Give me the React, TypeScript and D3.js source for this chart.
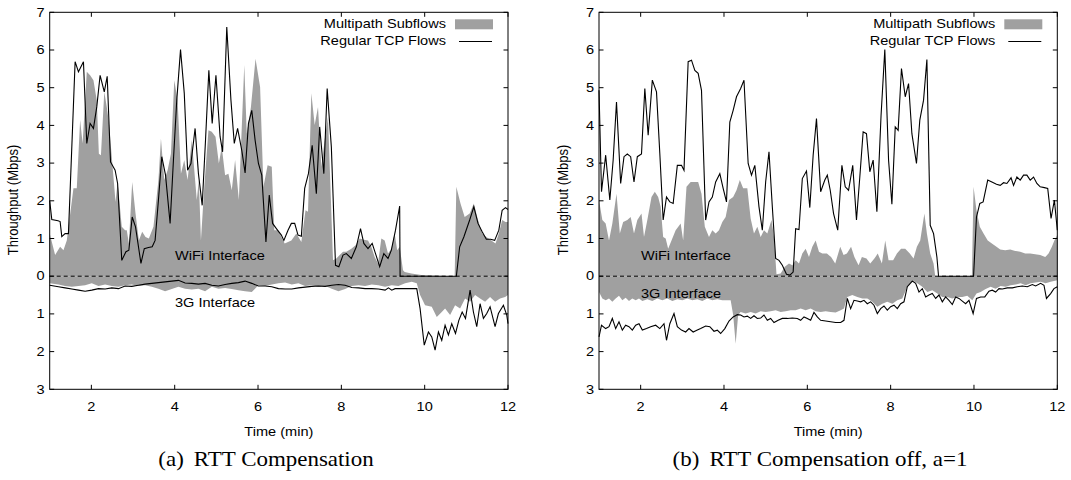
import React from 'react';
import * as d3 from 'd3';

type P = [number, number];

const xTicks = [2, 4, 6, 8, 10, 12];
const yTicks = [-3, -2, -1, 0, 1, 2, 3, 4, 5, 6, 7];
const yTickLabels = ['3', '2', '1', '0', '1', '2', '3', '4', '5', '6', '7'];
const legendLabels = ['Multipath Subflows', 'Regular TCP Flows'];
const areaLabels = ['WiFi Interface', '3G Interface'];
const captions = ['RTT Compensation', 'RTT Compensation off, a=1'];
const captionTags = ['(a)', '(b)'];

// Panel (a): WiFi multipath subflows (above zero)
const aWifiSub: P[] = [[1.00,1.13],[1.13,0.56],[1.25,0.78],[1.33,0.69],[1.41,0.95],[1.57,2.33],[1.65,2.33],[1.73,4.14],[1.79,3.52],[1.89,5.42],[1.97,5.33],[2.05,5.20],[2.13,4.67],[2.18,3.25],[2.23,3.21],[2.31,4.89],[2.37,4.49],[2.42,4.09],[2.49,3.17],[2.58,1.97],[2.63,2.50],[2.73,1.31],[2.81,1.22],[2.85,1.22],[2.90,0.87],[2.98,2.50],[3.06,1.66],[3.14,0.95],[3.22,1.18],[3.30,1.04],[3.38,1.00],[3.49,1.31],[3.61,2.55],[3.67,3.65],[3.75,2.55],[3.83,2.81],[3.91,3.25],[3.99,5.20],[4.07,4.67],[4.15,2.72],[4.23,3.08],[4.31,2.55],[4.41,3.61],[4.53,2.02],[4.58,2.55],[4.63,0.95],[4.71,2.37],[4.81,3.87],[4.89,3.83],[4.98,3.70],[5.06,2.99],[5.13,3.43],[5.21,2.68],[5.29,2.72],[5.37,2.28],[5.45,3.08],[5.54,2.02],[5.67,5.60],[5.73,3.78],[5.83,4.49],[5.94,5.77],[6.05,5.02],[6.13,2.37],[6.23,2.94],[6.33,2.90],[6.39,1.22],[6.48,1.22],[6.64,0.87],[6.80,0.95],[6.92,1.13],[7.04,0.91],[7.14,1.75],[7.20,1.71],[7.28,4.85],[7.36,4.01],[7.44,4.49],[7.52,2.90],[7.60,3.61],[7.68,4.23],[7.80,0.42],[7.88,0.47],[7.96,0.56],[8.04,0.65],[8.12,0.65],[8.24,0.73],[8.34,0.82],[8.44,1.00],[8.54,0.97],[8.64,0.95],[8.72,0.78],[8.80,0.51],[8.88,0.34],[8.96,1.00],[9.04,0.95],[9.12,0.60],[9.20,0.73],[9.28,1.13],[9.34,0.69],[9.40,0.78],[9.48,0.16],[9.52,0.11],[9.68,0.07],[9.92,0.03],[10.64,0.0],[10.72,0.0],[10.76,2.37],[10.86,1.93],[10.96,1.57],[11.08,1.66],[11.18,1.93],[11.28,1.49],[11.38,1.13],[11.48,1.04],[11.60,0.95],[11.70,0.87],[11.78,1.13],[11.86,1.49],[11.94,1.44],[12.0,1.44]];

// Panel (a): 3G multipath subflows (magnitude, drawn below zero)
const aCellSub: P[] = [[1.00,0.19],[1.21,0.22],[1.37,0.26],[1.53,0.28],[1.69,0.26],[1.85,0.24],[2.01,0.19],[2.17,0.26],[2.33,0.22],[2.49,0.26],[2.65,0.28],[2.81,0.24],[2.97,0.22],[3.13,0.26],[3.29,0.24],[3.45,0.28],[3.61,0.33],[3.77,0.40],[3.93,0.34],[4.09,0.28],[4.25,0.33],[4.41,0.35],[4.57,0.33],[4.73,0.40],[4.89,0.28],[5.05,0.33],[5.21,0.31],[5.37,0.34],[5.53,0.37],[5.69,0.40],[5.85,0.42],[6.01,0.24],[6.17,0.26],[6.33,0.22],[6.49,0.19],[6.65,0.17],[6.81,0.22],[6.97,0.19],[7.13,0.26],[7.29,0.24],[7.45,0.28],[7.61,0.26],[7.77,0.33],[7.93,0.40],[8.09,0.34],[8.25,0.26],[8.41,0.24],[8.57,0.26],[8.73,0.22],[8.89,0.24],[9.05,0.28],[9.21,0.24],[9.37,0.26],[9.53,0.19],[9.69,0.15],[9.81,0.19],[9.89,0.50],[10.01,0.77],[10.17,0.81],[10.29,1.08],[10.41,0.95],[10.49,0.86],[10.61,1.03],[10.73,0.77],[10.85,0.86],[10.97,0.59],[11.09,0.68],[11.21,0.50],[11.33,0.59],[11.45,0.68],[11.57,0.55],[11.69,0.68],[11.81,0.59],[11.93,0.55],[12.0,0.50]];

// Panel (a): regular TCP over WiFi
const aWifiTcp: P[] = [[1.00,2.0],[1.05,1.5],[1.20,1.47],[1.25,1.45],[1.29,1.05],[1.37,1.13],[1.45,1.13],[1.61,5.69],[1.69,5.42],[1.81,5.69],[1.89,3.52],[1.97,4.05],[2.05,3.92],[2.13,4.49],[2.21,5.33],[2.31,4.89],[2.38,5.30],[2.46,3.03],[2.57,2.81],[2.63,2.46],[2.73,0.42],[2.83,0.65],[2.90,0.69],[2.98,1.57],[3.06,1.31],[3.19,0.34],[3.27,0.73],[3.37,0.76],[3.46,0.78],[3.53,0.95],[3.61,2.02],[3.69,3.17],[3.78,2.68],[3.89,1.40],[3.97,3.08],[4.05,4.67],[4.14,6.01],[4.23,4.85],[4.31,2.81],[4.39,2.99],[4.49,3.92],[4.57,2.72],[4.66,1.88],[4.74,3.61],[4.82,5.46],[4.90,4.05],[4.99,5.33],[5.09,3.70],[5.15,3.30],[5.25,6.61],[5.35,4.67],[5.43,3.52],[5.51,3.92],[5.61,3.34],[5.69,2.74],[5.77,4.05],[5.85,4.40],[5.93,3.61],[6.01,2.99],[6.09,2.68],[6.19,0.91],[6.27,2.15],[6.35,1.40],[6.45,1.25],[6.56,1.09],[6.62,0.95],[6.72,1.22],[6.80,1.40],[6.88,1.40],[6.96,1.09],[7.04,1.06],[7.12,2.33],[7.21,2.72],[7.30,3.47],[7.40,2.19],[7.48,3.96],[7.58,2.72],[7.66,4.98],[7.76,3.43],[7.86,0.29],[7.94,0.25],[8.04,0.56],[8.12,0.60],[8.24,0.47],[8.36,0.78],[8.46,1.26],[8.54,0.87],[8.64,0.73],[8.74,0.87],[8.82,0.60],[8.92,0.25],[9.02,0.60],[9.12,0.47],[9.20,0.69],[9.30,1.22],[9.40,1.86],[9.41,0],[10.76,0],[10.84,0.78],[10.94,1.04],[11.08,1.49],[11.18,1.84],[11.28,1.40],[11.38,1.18],[11.48,0.98],[11.58,0.98],[11.68,0.95],[11.78,1.22],[11.86,1.75],[11.94,1.82],[12.0,1.77]];

// Panel (a): regular TCP over 3G (magnitude, drawn below zero)
const aCellTcp: P[] = [[1.00,0.24],[1.21,0.28],[1.37,0.31],[1.53,0.34],[1.69,0.37],[1.85,0.40],[2.01,0.37],[2.17,0.33],[2.33,0.34],[2.49,0.31],[2.65,0.33],[2.81,0.26],[2.97,0.27],[3.13,0.24],[3.29,0.21],[3.45,0.19],[3.61,0.17],[3.77,0.15],[3.93,0.13],[4.09,0.11],[4.25,0.18],[4.41,0.19],[4.57,0.21],[4.73,0.19],[4.89,0.24],[5.05,0.26],[5.21,0.22],[5.37,0.19],[5.53,0.17],[5.69,0.13],[5.85,0.19],[6.01,0.26],[6.17,0.26],[6.33,0.28],[6.49,0.33],[6.65,0.34],[6.81,0.34],[6.97,0.31],[7.13,0.29],[7.29,0.27],[7.45,0.26],[7.61,0.27],[7.77,0.24],[7.93,0.22],[8.09,0.24],[8.25,0.30],[8.41,0.31],[8.57,0.33],[8.73,0.33],[8.89,0.34],[9.05,0.37],[9.13,0.31],[9.21,0.37],[9.29,0.33],[9.37,0.33],[9.53,0.33],[9.69,0.33],[9.81,0.33],[9.89,0.86],[9.99,1.83],[10.09,1.48],[10.17,1.61],[10.25,1.96],[10.33,1.48],[10.41,1.70],[10.49,1.30],[10.57,1.56],[10.65,1.26],[10.74,1.52],[10.82,1.17],[10.90,0.95],[10.98,1.12],[11.09,0.37],[11.17,0.95],[11.25,1.34],[11.33,0.73],[11.41,1.12],[11.49,0.99],[11.57,0.81],[11.69,1.34],[11.77,0.99],[11.89,0.77],[11.97,1.03],[12.0,1.26]];

// Panel (b): WiFi multipath subflows
const bWifiSub: P[] = [[1.00,2.02],[1.08,1.49],[1.16,1.40],[1.24,0.95],[1.32,1.40],[1.42,2.19],[1.50,1.13],[1.58,1.44],[1.68,1.49],[1.76,1.57],[1.84,1.13],[1.92,1.49],[2.02,1.66],[2.08,1.04],[2.16,1.49],[2.26,2.10],[2.34,2.24],[2.42,2.10],[2.48,1.84],[2.54,1.04],[2.60,1.00],[2.66,0.73],[2.74,0.95],[2.84,1.22],[2.96,1.40],[3.02,0.95],[3.10,2.37],[3.20,2.50],[3.30,2.50],[3.38,2.50],[3.46,2.19],[3.54,1.31],[3.64,1.04],[3.72,1.22],[3.80,1.13],[3.88,1.22],[3.96,1.44],[4.04,1.57],[4.12,2.02],[4.22,2.10],[4.30,2.28],[4.38,2.55],[4.46,2.33],[4.56,2.33],[4.64,1.53],[4.72,1.13],[4.80,1.31],[4.88,1.04],[4.96,1.22],[5.04,1.13],[5.14,1.49],[5.20,1.04],[5.26,0.05],[5.36,0.07],[5.46,0.25],[5.56,0.34],[5.64,0.29],[5.72,0.42],[5.80,0.34],[5.88,0.60],[5.96,0.73],[6.04,0.51],[6.12,0.78],[6.20,0.95],[6.28,0.65],[6.36,0.60],[6.47,0.60],[6.57,0.51],[6.67,0.34],[6.79,0.78],[6.87,0.56],[6.95,0.60],[7.05,0.78],[7.13,0.51],[7.23,0.29],[7.31,0.51],[7.42,0.47],[7.51,0.34],[7.61,0.47],[7.69,0.60],[7.79,0.34],[7.87,0.95],[7.95,0.42],[8.06,0.42],[8.15,0.60],[8.25,0.73],[8.35,0.73],[8.46,0.60],[8.55,0.47],[8.63,0.78],[8.71,0.95],[8.81,1.66],[8.87,1.13],[8.95,0.60],[9.03,0.34],[9.07,0],[9.95,0],[9.99,2.37],[10.06,1.75],[10.14,1.31],[10.23,1.13],[10.33,0.95],[10.43,0.87],[10.54,0.78],[10.63,0.71],[10.75,0.69],[10.87,0.71],[10.99,0.67],[11.11,0.65],[11.23,0.60],[11.35,0.60],[11.47,0.58],[11.59,0.56],[11.71,0.51],[11.79,0.60],[11.87,0.78],[11.93,0.95],[12.0,1.09]];

// Panel (b): 3G multipath subflows (magnitude)
const bCellSub: P[] = [[1.00,0.42],[1.08,0.59],[1.16,0.64],[1.24,0.59],[1.32,0.68],[1.40,0.59],[1.48,0.52],[1.56,0.64],[1.64,0.57],[1.72,0.66],[1.80,0.59],[1.88,0.64],[1.96,0.59],[2.04,0.66],[2.16,0.61],[2.28,0.66],[2.40,0.59],[2.52,0.64],[2.64,0.59],[2.76,0.66],[2.88,0.61],[3.00,0.64],[3.12,0.59],[3.24,0.64],[3.36,0.61],[3.48,0.66],[3.60,0.59],[3.72,0.64],[3.84,0.61],[3.96,0.64],[4.08,0.64],[4.16,0.64],[4.22,1.03],[4.28,1.79],[4.34,1.03],[4.40,0.95],[4.52,0.99],[4.64,0.95],[4.76,0.99],[4.88,0.93],[5.00,0.95],[5.12,0.93],[5.24,0.90],[5.36,0.95],[5.48,0.93],[5.60,0.90],[5.72,0.90],[5.84,0.86],[5.96,0.90],[6.08,0.86],[6.20,0.93],[6.32,0.95],[6.44,0.93],[6.56,0.95],[6.68,0.96],[6.80,0.90],[6.88,0.86],[6.96,0.55],[7.08,0.50],[7.20,0.55],[7.32,0.59],[7.44,0.59],[7.56,0.68],[7.68,0.81],[7.80,0.73],[7.92,0.68],[8.04,0.73],[8.16,0.64],[8.28,0.59],[8.40,0.28],[8.52,0.11],[8.64,0.19],[8.76,0.28],[8.88,0.42],[9.00,0.37],[9.12,0.46],[9.24,0.55],[9.36,0.55],[9.48,0.59],[9.60,0.55],[9.72,0.55],[9.84,0.52],[9.96,0.64],[10.06,0.46],[10.16,0.42],[10.28,0.34],[10.40,0.28],[10.52,0.33],[10.64,0.26],[10.76,0.28],[10.88,0.24],[11.00,0.22],[11.12,0.19],[11.24,0.24],[11.36,0.19],[11.48,0.17],[11.60,0.15],[11.72,0.19],[11.84,0.15],[12.0,0.11]];

// Panel (b): regular TCP over WiFi
const bWifiTcp: P[] = [[1.00,4.93],[1.06,2.24],[1.16,3.21],[1.26,2.02],[1.34,3.08],[1.42,4.62],[1.52,2.46],[1.60,3.17],[1.68,3.24],[1.76,3.17],[1.84,2.50],[1.92,3.17],[2.02,3.24],[2.10,4.98],[2.18,3.74],[2.28,5.20],[2.38,4.89],[2.46,3.25],[2.54,1.49],[2.62,2.10],[2.70,1.97],[2.78,1.93],[2.88,2.94],[2.98,2.94],[3.04,2.81],[3.14,5.69],[3.22,5.73],[3.30,5.46],[3.38,5.38],[3.46,4.93],[3.56,1.49],[3.64,1.97],[3.72,2.10],[3.80,2.50],[3.90,2.72],[3.98,2.33],[4.06,1.97],[4.14,4.09],[4.22,4.40],[4.30,4.76],[4.40,4.98],[4.48,5.20],[4.58,2.99],[4.66,2.68],[4.74,2.94],[4.84,1.84],[4.92,1.22],[5.00,2.50],[5.08,3.30],[5.16,1.84],[5.24,0.47],[5.32,0.42],[5.40,0.29],[5.50,0.05],[5.58,0.03],[5.66,0.11],[5.72,1.26],[5.80,1.24],[5.88,2.59],[5.98,2.79],[6.06,1.82],[6.14,3.21],[6.22,4.18],[6.32,2.24],[6.42,2.55],[6.48,2.68],[6.55,2.28],[6.63,1.66],[6.73,1.22],[6.83,2.94],[6.91,2.37],[6.99,2.28],[7.09,2.94],[7.18,1.49],[7.26,2.63],[7.34,3.83],[7.42,3.78],[7.50,2.77],[7.58,3.08],[7.67,1.71],[7.77,4.27],[7.86,6.01],[7.95,3.08],[8.03,1.91],[8.11,3.96],[8.18,3.87],[8.26,5.51],[8.35,4.76],[8.43,5.11],[8.51,3.78],[8.62,2.99],[8.70,4.14],[8.79,4.67],[8.87,5.75],[8.95,1.35],[9.03,1.13],[9.11,0.51],[9.15,0],[9.99,0],[10.06,1.57],[10.14,1.93],[10.22,1.97],[10.33,2.55],[10.43,2.50],[10.54,2.44],[10.63,2.41],[10.71,2.48],[10.79,2.46],[10.89,2.61],[10.95,2.41],[11.03,2.63],[11.11,2.55],[11.19,2.68],[11.27,2.68],[11.35,2.55],[11.43,2.63],[11.51,2.46],[11.59,2.37],[11.69,2.35],[11.77,2.33],[11.85,1.53],[11.93,2.02],[12.0,1.22]];

// Panel (b): regular TCP over 3G (magnitude)
const bCellTcp: P[] = [[1.00,1.61],[1.06,1.30],[1.16,1.39],[1.24,1.34],[1.32,1.12],[1.40,1.39],[1.48,1.21],[1.56,1.43],[1.64,1.30],[1.72,1.34],[1.80,1.43],[1.88,1.30],[1.96,1.26],[2.04,1.43],[2.14,1.39],[2.24,1.34],[2.36,1.30],[2.46,1.39],[2.56,1.26],[2.62,1.70],[2.70,1.26],[2.80,0.99],[2.88,1.34],[2.98,1.43],[3.08,1.48],[3.16,1.39],[3.26,1.48],[3.36,1.43],[3.44,1.39],[3.56,1.32],[3.66,1.34],[3.76,1.46],[3.84,1.43],[3.92,1.52],[4.02,1.39],[4.12,1.19],[4.22,1.08],[4.32,1.02],[4.40,1.03],[4.48,1.08],[4.56,1.06],[4.64,1.12],[4.72,1.05],[4.80,1.12],[4.88,1.11],[4.96,1.03],[5.04,1.17],[5.12,1.12],[5.20,1.23],[5.30,1.17],[5.40,1.12],[5.52,1.12],[5.64,1.11],[5.76,1.12],[5.84,1.17],[5.92,1.08],[6.00,1.12],[6.08,1.17],[6.16,0.96],[6.24,1.08],[6.32,1.17],[6.44,1.19],[6.56,1.21],[6.68,1.23],[6.80,1.23],[6.88,1.17],[6.96,0.59],[7.04,0.86],[7.12,0.64],[7.20,0.66],[7.28,0.68],[7.36,0.64],[7.44,0.73],[7.52,0.68],[7.60,0.77],[7.68,0.99],[7.76,0.86],[7.84,0.79],[7.92,0.90],[8.00,0.81],[8.08,0.77],[8.16,0.86],[8.24,0.73],[8.32,0.68],[8.40,0.28],[8.52,0.13],[8.60,0.19],[8.68,0.42],[8.76,0.33],[8.84,0.55],[8.92,0.50],[9.00,0.46],[9.08,0.59],[9.16,0.50],[9.24,0.68],[9.32,0.55],[9.40,0.64],[9.48,0.75],[9.56,0.55],[9.64,0.59],[9.72,0.66],[9.80,0.73],[9.88,0.64],[9.98,0.99],[10.06,0.59],[10.16,0.55],[10.26,0.55],[10.36,0.40],[10.44,0.37],[10.52,0.42],[10.60,0.33],[10.68,0.34],[10.80,0.31],[10.92,0.31],[11.04,0.28],[11.16,0.26],[11.28,0.28],[11.40,0.22],[11.48,0.26],[11.60,0.19],[11.68,0.24],[11.74,0.59],[11.84,0.46],[11.92,0.33],[12.0,0.28]];

const SANS = '"Liberation Sans", Arial, Helvetica, sans-serif';
const SERIF = '"Liberation Serif", "Times New Roman", serif';
const SX = 1.12; // horizontal stretch of the reference's text

const T: React.FC<{ x: number; y: number; anchor?: string; size?: number; family?: string; children: React.ReactNode; rotate?: boolean }> = ({ x, y, anchor = 'middle', size = 13, family = SANS, children, rotate }) => (
  <text
    transform={rotate ? `translate(${x},${y}) rotate(-90) scale(1,${SX})` : `translate(${x},${y}) scale(${SX},1)`}
    textAnchor={anchor}
    dominantBaseline="central"
    fontSize={size}
    fontFamily={family}
    fill="#000"
  >
    {children}
  </text>
);

const TOP = 12.3;
const BOTTOM = 389.3;
const WIDTH = 458.3;
const GREY = '#a0a0a0';

type PanelProps = {
  left: number;
  wifiSub: P[];
  cellSub: P[];
  wifiTcp: P[];
  cellTcp: P[];
  tag: string;
  caption: string;
  captionX: number;
  wifiLabelX: number;
  wifiLabelY: number;
  cellLabelX: number;
  cellLabelY: number;
};

const Panel: React.FC<PanelProps> = (p) => {
  const x = d3.scaleLinear().domain([1, 12]).range([p.left, p.left + WIDTH]);
  const y = d3.scaleLinear().domain([-3, 7]).range([BOTTOM, TOP]);
  const up = d3.area<P>().x((d) => x(d[0])).y0(y(0)).y1((d) => y(d[1]));
  const down = d3.area<P>().x((d) => x(d[0])).y0(y(0)).y1((d) => y(-d[1]));
  const lineUp = d3.line<P>().x((d) => x(d[0])).y((d) => y(d[1]));
  const lineDown = d3.line<P>().x((d) => x(d[0])).y((d) => y(-d[1]));
  const right = p.left + WIDTH;
  const tl = 4.5;
  return (
    <g>
      <path d={up(p.wifiSub) || ''} fill={GREY} />
      <path d={down(p.cellSub) || ''} fill={GREY} />
      <line x1={p.left} x2={right} y1={y(0)} y2={y(0)} stroke="#000" strokeWidth={1} strokeDasharray="4,3" />
      <path d={lineUp(p.wifiTcp) || ''} fill="none" stroke="#000" strokeWidth={1.1} strokeLinejoin="miter" />
      <path d={lineDown(p.cellTcp) || ''} fill="none" stroke="#000" strokeWidth={1.1} />
      {/* ticks */}
      {yTicks.map((t, i) => (
        <g key={'y' + t}>
          <line x1={p.left} x2={p.left + tl} y1={y(t)} y2={y(t)} stroke="#000" />
          <line x1={right} x2={right - tl} y1={y(t)} y2={y(t)} stroke="#000" />
          <T x={p.left - 5} y={y(t)} anchor="end">{yTickLabels[i]}</T>
        </g>
      ))}
      {xTicks.map((t) => (
        <g key={'x' + t}>
          <line x1={x(t)} x2={x(t)} y1={BOTTOM} y2={BOTTOM - tl} stroke="#000" />
          <line x1={x(t)} x2={x(t)} y1={TOP} y2={TOP + tl} stroke="#000" />
          <T x={x(t)} y={407}>{String(t)}</T>
        </g>
      ))}
      <rect x={p.left} y={TOP} width={WIDTH} height={BOTTOM - TOP} fill="none" stroke="#000" strokeWidth={1} />
      {/* area labels */}
      <T x={p.wifiLabelX} y={p.wifiLabelY} anchor="start">{areaLabels[0]}</T>
      <T x={p.cellLabelX} y={p.cellLabelY} anchor="start">{areaLabels[1]}</T>
      {/* legend */}
      <T x={right - 62} y={23.5} anchor="end">{legendLabels[0]}</T>
      <rect x={right - 53} y={19.3} width={38} height={10} fill={GREY} />
      <T x={right - 62} y={40.5} anchor="end">{legendLabels[1]}</T>
      <line x1={right - 49} x2={right - 16} y1={41.5} y2={41.5} stroke="#000" strokeWidth={1.1} />
      {/* axis titles */}
      <T x={p.left + WIDTH / 2} y={432}>Time (min)</T>
      <T x={p.left - 36} y={200} rotate>Throughput (Mbps)</T>
      {/* caption */}
      <text transform={`translate(${p.captionX},459) scale(${SX},1)`} textAnchor="middle" dominantBaseline="central" fontSize={20.5} fontFamily={SERIF} fill="#000">
        <tspan>{p.tag}</tspan>
        <tspan dx={9}>{p.caption}</tspan>
      </text>
    </g>
  );
};

export default function App() {
  return (
    <svg width={1071} height={480} style={{ position: 'absolute', left: 0, top: 0, background: '#fff' }}>
      <rect x={0} y={0} width={1071} height={480} fill="#fff" />
      <Panel left={49.7} wifiSub={aWifiSub} cellSub={aCellSub} wifiTcp={aWifiTcp} cellTcp={aCellTcp}
        tag={captionTags[0]} caption={captions[0]} captionX={266}
        wifiLabelX={175} wifiLabelY={256} cellLabelX={175} cellLabelY={303} />
      <Panel left={599} wifiSub={bWifiSub} cellSub={bCellSub} wifiTcp={bWifiTcp} cellTcp={bCellTcp}
        tag={captionTags[1]} caption={captions[1]} captionX={820}
        wifiLabelX={641} wifiLabelY={256} cellLabelX={641} cellLabelY={294} />
    </svg>
  );
}
